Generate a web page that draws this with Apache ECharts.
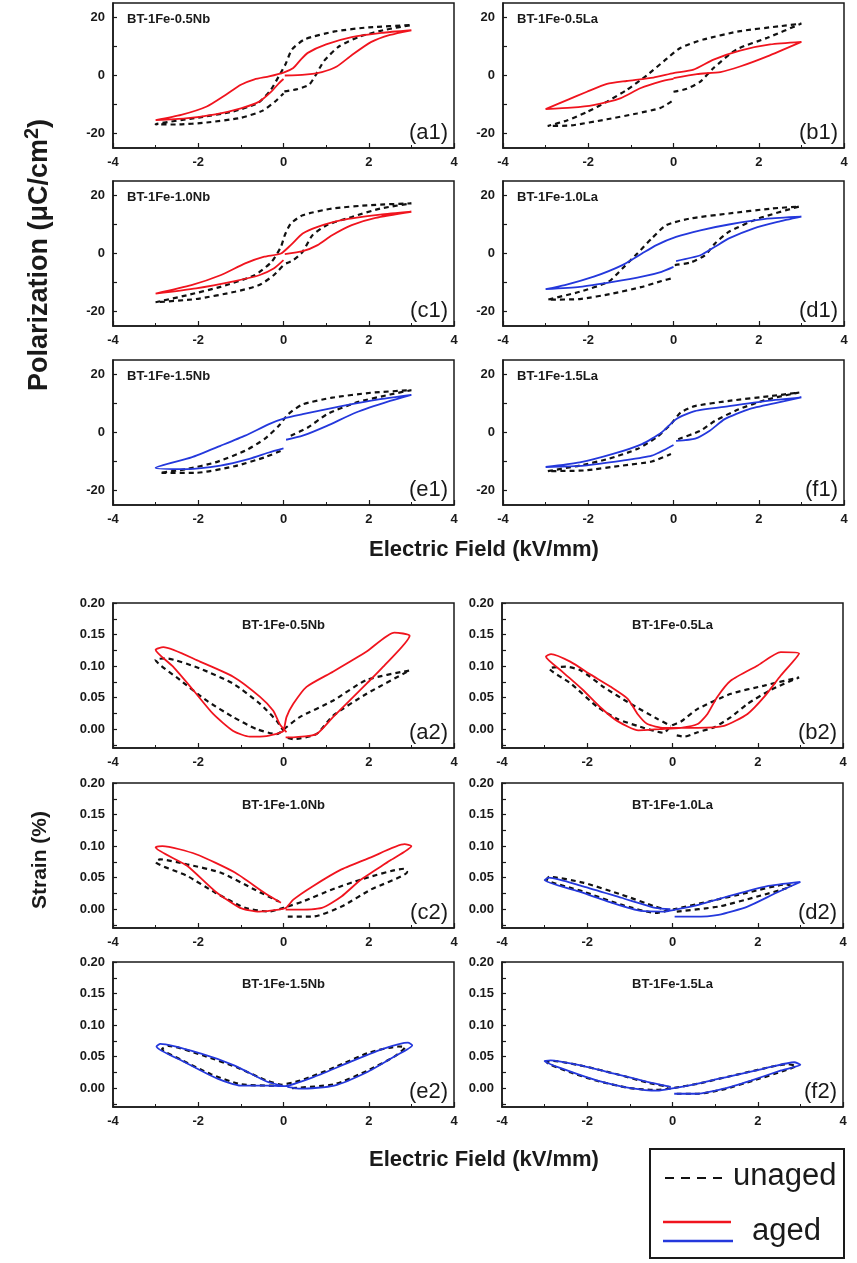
<!DOCTYPE html>
<html>
<head>
<meta charset="utf-8">
<title>P-E and S-E loops</title>
<script src="https://cdn.jsdelivr.net/npm/echarts@6.0.0/dist/echarts.min.js"></script>
<style>
  html, body { margin: 0; padding: 0; background: #fff; }
  #chart { width: 857px; height: 1263px; }
</style>
</head>
<body>
<div id="chart"></div>
<script>
// ---- data: each loop is traced 0 -> +3 -> -3 -> 0 (kV/mm, uC/cm2 or %)
var a1Unaged = [[0.02,-5.5],[0.3,-4.8],[0.6,-3.2],[0.75,0],[0.95,5],[1.3,10],[1.8,13.5],[2.4,15.8],[3.0,17.4],
  [2.0,16.6],[1.2,15.2],[0.5,12.5],[0.2,9.0],[0.05,4.0],[-0.1,0],[-0.3,-5],[-0.6,-9.5],[-1.2,-12.5],[-2.0,-14.5],[-3.0,-16.8],
  [-2.5,-16.9],[-1.8,-16.2],[-1.0,-14.6],[-0.5,-12.2],[-0.2,-9.0],[0,-6.2]];
var a1Aged = [[0.03,0],[0.5,0.3],[0.9,1.2],[1.25,3.1],[1.6,7.0],[2.05,11.5],[2.5,14.0],[3.0,15.6],
  [2.3,14.7],[1.6,13.2],[1.0,10.7],[0.57,7.8],[0.4,5.4],[0.23,2.6],[0,1.0],[-0.34,-0.3],[-0.68,-1.3],[-1.0,-3.2],[-1.36,-6.7],[-1.8,-10.7],[-2.4,-13.6],[-3.0,-15.4],
  [-2.3,-14.8],[-1.6,-13.4],[-1.0,-11.3],[-0.57,-9.0],[-0.28,-5.5],[-0.11,-2.7],[0,-1.2]];

var b1Unaged = [[0,-5.6],[0.31,-4.6],[0.63,-2.1],[0.94,2.6],[1.48,9.0],[2.2,13.0],[3.0,17.9],
  [2.5,17.0],[1.56,15.3],[0.7,12.4],[0.16,9.5],[-0.23,4.9],[-0.63,0],[-1.1,-5],[-1.56,-9],[-2.03,-12.6],[-2.5,-15.5],[-2.95,-17.4],
  [-2.4,-17.2],[-1.56,-15.1],[-0.86,-13.1],[-0.31,-11.2],[0,-8.5]];
var b1Aged = [[0,-0.9],[0.55,0.5],[1.1,1.2],[1.56,3.1],[2.2,6.6],[3.0,11.6],
  [2.27,10.7],[1.56,8.6],[0.94,5.5],[0.47,2.0],[0,0.8],[-0.47,-0.7],[-1.1,-1.9],[-1.56,-2.9],[-2.03,-5.6],[-2.5,-8.5],[-3.0,-11.6],
  [-2.4,-11.1],[-1.88,-10.2],[-1.25,-7.9],[-0.78,-4.4],[-0.31,-2.1],[0,-1.2]];

var c1Unaged = [[0.06,-3.4],[0.23,-2.3],[0.45,0.6],[0.68,6.3],[1.02,9.8],[1.6,12.6],[2.27,15.5],[3.0,17.3],
  [2.05,16.7],[1.14,15.5],[0.45,13.2],[0.17,10.3],[0.03,6.3],[-0.06,2.3],[-0.28,-2.9],[-0.68,-7.5],[-1.48,-11.5],[-2.27,-14.4],[-3.0,-16.8],
  [-2.05,-15.7],[-1.14,-13.2],[-0.57,-10.9],[-0.23,-7.5],[0,-4.0]];
var c1Aged = [[0.03,-0.2],[0.45,0.8],[0.8,2.9],[1.14,6.3],[1.6,9.8],[2.16,12.3],[3.0,14.4],
  [2.27,13.4],[1.36,11.5],[0.8,9.2],[0.45,6.9],[0.17,2.9],[-0.06,0],[-0.45,-1.1],[-0.9,-3.4],[-1.48,-7.5],[-2.16,-10.9],[-3.0,-13.8],
  [-2.05,-12.0],[-1.14,-9.5],[-0.57,-7.5],[-0.23,-5.2],[0,-2.3]];

var d1Unaged = [[0.03,-4.0],[0.4,-3.1],[0.74,-0.6],[0.97,3.4],[1.3,7.5],[2.0,12.1],[2.95,16.2],
  [2.3,15.5],[1.3,13.8],[0.4,12.1],[-0.17,9.8],[-0.51,5.2],[-0.85,0],[-1.2,-5.2],[-1.53,-9.8],[-2.2,-13.2],[-2.95,-15.9],
  [-2.2,-15.7],[-1.42,-13.8],[-0.74,-11.5],[-0.28,-9.5],[0,-8.4]];
var d1Aged = [[0.06,-2.6],[0.63,-0.6],[0.97,2.3],[1.3,5.2],[1.87,8.6],[2.44,10.9],[3.0,12.7],
  [2.2,12.0],[1.3,10.0],[0.63,8.0],[0.06,5.7],[-0.4,2.9],[-0.74,0],[-1.2,-4.0],[-1.87,-8.0],[-2.55,-10.9],[-3.0,-12.3],
  [-2.2,-11.5],[-1.42,-9.8],[-0.74,-8.0],[-0.28,-6.3],[0,-4.6]];

var e1Unaged = [[0.17,-1.1],[0.57,1.7],[1.02,6.3],[1.7,10.3],[2.5,13.1],[3.0,14.6],
  [2.05,13.7],[1.14,12.0],[0.45,9.7],[0.11,6.3],[-0.11,2.3],[-0.45,-2.3],[-0.9,-6.3],[-1.6,-10.3],[-2.27,-12.6],[-2.9,-13.9],
  [-2.05,-13.9],[-1.14,-11.6],[-0.45,-8.6],[-0.06,-6.3]];
var e1Aged = [[0.06,-2.5],[0.45,-1.1],[1.02,2.3],[1.7,6.9],[2.5,10.9],[3.0,13.0],
  [2.27,11.5],[1.36,9.1],[0.45,6.3],[0,4.8],[-0.34,2.9],[-0.9,-1.1],[-1.48,-4.6],[-2.16,-8.6],[-3.0,-12.2],
  [-2.27,-12.6],[-1.48,-11.4],[-0.8,-9.1],[-0.34,-6.9],[0,-5.5]];

var f1Unaged = [[0.11,-2.3],[0.63,0.6],[0.97,4.0],[1.53,8.0],[2.2,11.4],[2.95,13.8],
  [2.3,12.6],[1.3,10.9],[0.5,9.1],[0.17,6.9],[-0.06,2.9],[-0.4,-1.7],[-0.85,-5.7],[-1.53,-9.1],[-2.2,-11.4],[-2.95,-13.3],
  [-2.1,-13.1],[-1.2,-11.4],[-0.51,-10.0],[-0.06,-7.4]];
var f1Aged = [[0.06,-2.9],[0.51,-2.1],[0.85,0.6],[1.2,4.6],[1.76,8.0],[2.44,10.3],[3.0,12.1],
  [2.2,10.9],[1.3,9.1],[0.5,7.4],[0.06,4.6],[-0.28,0],[-0.74,-4.0],[-1.42,-7.4],[-2.2,-10.3],[-3.0,-11.9],
  [-2.1,-11.4],[-1.2,-9.7],[-0.51,-8.0],[0,-4.3]];

var a2Unaged = [[0.1,-0.014],[0.23,-0.016],[0.77,-0.008],[1.16,0.021],[1.95,0.056],[2.96,0.093],
  [1.95,0.078],[1.16,0.045],[0.38,0.019],[0.07,0.003],[-0.16,-0.008],[-0.63,0],[-1.18,0.019],[-1.8,0.045],[-2.43,0.078],[-3.0,0.110],
  [-2.75,0.112],[-1.96,0.096],[-1.18,0.072],[-0.55,0.040],[-0.16,0.013],[0,-0.003]];
var a2Aged = [[0.05,-0.013],[0.23,-0.013],[0.77,-0.008],[1.16,0.019],[1.55,0.045],[1.95,0.072],[2.34,0.099],[2.96,0.148],
  [2.6,0.153],[1.95,0.123],[1.16,0.091],[0.54,0.067],[0.23,0.040],[0.07,0.019],[0,-0.003],[-0.09,-0.006],[-0.4,-0.011],[-0.79,-0.012],[-1.18,-0.003],[-1.65,0.024],[-2.12,0.062],[-2.59,0.099],[-3.0,0.126],
  [-2.82,0.130],[-1.96,0.107],[-1.18,0.083],[-0.55,0.051],[-0.24,0.029],[-0.09,0.008],[0.07,-0.005]];

var b2Unaged = [[0.1,-0.010],[0.27,-0.012],[0.59,-0.005],[0.98,0.003],[1.37,0.019],[1.76,0.040],[2.3,0.062],[2.97,0.082],
  [2.15,0.069],[1.37,0.056],[0.59,0.032],[0.2,0.012],[-0.04,0.005],[-0.2,-0.006],[-0.82,0.005],[-1.29,0.016],[-1.76,0.035],[-2.38,0.072],[-2.89,0.096],
  [-2.5,0.099],[-2.15,0.093],[-1.6,0.066],[-0.98,0.040],[-0.35,0.016],[-0.04,0.005]];
var b2Aged = [[0,0.002],[0.59,0.002],[1.21,0.005],[1.76,0.024],[2.15,0.051],[2.54,0.085],[2.97,0.120],
  [2.54,0.122],[2.0,0.101],[1.37,0.077],[1.05,0.051],[0.82,0.024],[0.59,0.008],[0.2,0.002],[-0.3,0.0],[-0.8,-0.002],[-1.3,0.013],[-1.7,0.035],[-2.1,0.062],[-2.6,0.092],[-2.97,0.115],
  [-2.85,0.119],[-2.4,0.107],[-1.91,0.086],[-1.45,0.067],[-1.05,0.048],[-0.82,0.024],[-0.59,0.008],[-0.2,0.002],[0.1,0.002]];

var c2Unaged = [[0.1,-0.012],[0.68,-0.012],[1.36,0.004],[2.05,0.031],[2.9,0.059],
  [2.84,0.064],[1.82,0.047],[1.14,0.031],[0.45,0.012],[0,0.002],[-0.34,-0.004],[-0.9,0.002],[-1.6,0.026],[-2.27,0.053],[-3.0,0.075],
  [-2.9,0.079],[-2.27,0.071],[-1.48,0.058],[-0.68,0.031],[-0.11,0.012]];
var c2Aged = [[0.05,-0.001],[0.23,-0.001],[0.9,0.002],[1.36,0.020],[1.82,0.047],[2.5,0.077],[3.0,0.100],
  [2.84,0.103],[2.05,0.082],[1.36,0.063],[0.68,0.036],[0.23,0.015],[0.06,0.002],[-0.11,-0.001],[-0.57,-0.004],[-1.02,0.002],[-1.6,0.028],[-2.27,0.069],[-3.0,0.098],
  [-2.84,0.100],[-2.05,0.087],[-1.14,0.058],[-0.45,0.026],[-0.06,0.010]];

var d2Unaged = [[0.1,-0.004],[1.08,0.004],[1.99,0.020],[2.78,0.037],
  [2.67,0.039],[1.76,0.026],[0.85,0.012],[0.05,0],[-0.4,-0.006],[-1.2,0.007],[-2.1,0.028],[-2.95,0.047],
  [-2.9,0.051],[-2.1,0.042],[-1.2,0.023],[-0.4,0.004],[-0.1,-0.002]];
var d2Aged = [[0.05,-0.012],[0.5,-0.012],[1.08,-0.009],[1.76,0.004],[2.44,0.026],[3.0,0.043],
  [2.2,0.036],[1.3,0.020],[0.63,0.007],[0.06,-0.001],[-0.23,-0.004],[-0.74,-0.003],[-1.42,0.010],[-2.2,0.028],[-3.0,0.046],
  [-2.9,0.050],[-2.1,0.036],[-1.2,0.018],[-0.4,0.002],[-0.05,0.0]];

var e2Unaged = [[0.2,0.0],[1.19,0.006],[1.98,0.028],[2.6,0.050],[2.85,0.065],
  [2.7,0.066],[2.0,0.056],[1.2,0.033],[0.4,0.012],[-0.2,0.004],[-1.0,0.006],[-1.7,0.022],[-2.4,0.045],[-2.85,0.062],
  [-2.7,0.067],[-1.9,0.052],[-1.1,0.033],[-0.4,0.012],[-0.05,0.005]];
var e2Aged = [[0.09,0.002],[0.4,-0.001],[1.19,0.004],[1.98,0.026],[2.6,0.050],[3.02,0.068],
  [2.92,0.072],[2.37,0.063],[1.58,0.042],[0.8,0.020],[0,0.003],[-0.38,0.004],[-1.0,0.004],[-1.55,0.015],[-2.34,0.042],[-2.98,0.066],
  [-2.89,0.070],[-1.95,0.055],[-1.16,0.036],[-0.38,0.010],[0,0.003]];

var f2Unaged = [[0.1,-0.009],[0.6,-0.009],[1.2,-0.002],[1.9,0.012],[2.6,0.027],[2.9,0.035],
  [2.7,0.038],[2.0,0.029],[1.3,0.018],[0.6,0.007],[0,0.0],[-0.4,-0.003],[-1.0,0.0],[-1.8,0.012],[-2.4,0.025],[-2.95,0.041],
  [-2.8,0.043],[-2.1,0.035],[-1.3,0.022],[-0.6,0.009],[-0.1,0.002]];
var f2Aged = [[0.04,-0.009],[0.59,-0.009],[1.2,-0.001],[1.84,0.012],[2.55,0.028],[3.0,0.037],
  [2.86,0.041],[2.15,0.031],[1.37,0.019],[0.59,0.007],[-0.04,-0.001],[-0.35,-0.004],[-0.98,0.0],[-1.76,0.012],[-2.39,0.026],[-3.0,0.043],
  [-2.86,0.044],[-2.16,0.036],[-1.37,0.023],[-0.59,0.010],[-0.04,0.002]];

var sampleNames = ['BT-1Fe-0.5Nb','BT-1Fe-0.5La','BT-1Fe-1.0Nb','BT-1Fe-1.0La','BT-1Fe-1.5Nb','BT-1Fe-1.5La'];
var peTags = ['(a1)','(b1)','(c1)','(d1)','(e1)','(f1)'];
var seTags = ['(a2)','(b2)','(c2)','(d2)','(e2)','(f2)'];
var peUnaged = [a1Unaged,b1Unaged,c1Unaged,d1Unaged,e1Unaged,f1Unaged];
var peAged = [a1Aged,b1Aged,c1Aged,d1Aged,e1Aged,f1Aged];
var seUnaged = [a2Unaged,b2Unaged,c2Unaged,d2Unaged,e2Unaged,f2Unaged];
var seAged = [a2Aged,b2Aged,c2Aged,d2Aged,e2Aged,f2Aged];
var xTicks = [-4,-2,0,2,4];
var peYLabels = [-20,0,20];
var peYTicks = [-20,-10,0,10,20];
var seYLabels = [0,0.05,0.10,0.15,0.20];
var seYTicks = [-0.025,0,0.025,0.05,0.075,0.10,0.125,0.15,0.175,0.20];
var legendNames = ['unaged','aged'];

// ---- layout
var RED = '#f0141e', BLUE = '#2438dc', INK = '#1a1a1a';
var FONT = 'Liberation Sans, Arial, sans-serif';
var peLeft = [113, 503], seLeft = [113, 502];
var boxW = 341, boxH = 145;
var peTop = [3, 181, 360];
var seTop = [603, 783, 962];

var chart = echarts.init(document.getElementById('chart'));

var grids = [], xAxes = [], yAxes = [], series = [], graphics = [];

function addPanel(left, top, isStrain, unaged, aged, agedColor, name, tag) {
  var gi = grids.length;
  grids.push({left: left, top: top, width: boxW, height: boxH, show: true,
    borderColor: INK, borderWidth: 1.5, backgroundColor: 'transparent'});
  xAxes.push({
    gridIndex: gi, type: 'value', min: xTicks[0], max: xTicks[xTicks.length - 1], interval: 2,
    axisLine: {show: true, onZero: false, lineStyle: {color: INK, width: 1.5}},
    axisTick: {show: true, inside: true, length: 5, lineStyle: {color: INK, width: 1.2}},
    minorTick: {show: true, splitNumber: 2, length: 3, lineStyle: {color: INK, width: 1}},
    axisLabel: {fontFamily: FONT, fontWeight: 'bold', fontSize: 13, color: INK, margin: 8},
    splitLine: {show: false}
  });
  yAxes.push({
    gridIndex: gi, type: 'value',
    min: isStrain ? -0.03 : -25, max: isStrain ? 0.2 : 25,
    axisLine: {show: true, onZero: false, lineStyle: {color: INK, width: 1.5}},
    axisTick: {show: true, inside: true, length: 4, customValues: isStrain ? seYTicks : peYTicks,
      lineStyle: {color: INK, width: 1.2}},
    axisLabel: {fontFamily: FONT, fontWeight: 'bold', fontSize: 13, color: INK, margin: 8,
      customValues: isStrain ? seYLabels : peYLabels,
      formatter: function (v) { return isStrain ? v.toFixed(2) : String(v); }},
    splitLine: {show: false}
  });
  series.push({
    type: 'line', xAxisIndex: gi, yAxisIndex: gi, data: unaged, showSymbol: false,
    smooth: 0.2, animation: false, z: 2,
    lineStyle: {color: '#111', width: 2.2, type: [5, 4]}
  });
  series.push({
    type: 'line', xAxisIndex: gi, yAxisIndex: gi, data: aged, showSymbol: false,
    smooth: 0.2, animation: false, z: 3,
    lineStyle: {color: agedColor, width: 1.8}
  });
  graphics.push({
    type: 'text', z: 10,
    x: isStrain ? left + boxW / 2 : left + 14,
    y: isStrain ? top + 22 : top + 16,
    style: {text: name, font: 'bold 13px ' + FONT, fill: INK,
      align: isStrain ? 'center' : 'left', verticalAlign: 'middle'}
  });
  graphics.push({
    type: 'text', z: 10, x: left + boxW - 6, y: top + boxH - 4,
    style: {text: tag, font: '22px ' + FONT, fill: INK, align: 'right', verticalAlign: 'bottom'}
  });
}

for (var i = 0; i < 6; i++) {
  var col = i % 2, row = Math.floor(i / 2);
  addPanel(peLeft[col], peTop[row], false, peUnaged[i], peAged[i], i < 3 ? RED : BLUE, sampleNames[i], peTags[i]);
}
for (var j = 0; j < 6; j++) {
  var c = j % 2, r = Math.floor(j / 2);
  addPanel(seLeft[c], seTop[r], true, seUnaged[j], seAged[j], j < 3 ? RED : BLUE, sampleNames[j], seTags[j]);
}

// axis titles
graphics.push({type: 'text', x: 40, y: 255, rotation: Math.PI / 2,
  style: {text: '{a|Polarization (μC/cm}{s|2}{a|)}', fill: INK, align: 'center', verticalAlign: 'middle',
    rich: {
      a: {fontFamily: FONT, fontWeight: 'bold', fontSize: 27, fill: INK},
      s: {fontFamily: FONT, fontWeight: 'bold', fontSize: 20, fill: INK, padding: [0, 0, 16, 0]}
    }}});
graphics.push({type: 'text', x: 40, y: 860, rotation: Math.PI / 2,
  style: {text: 'Strain (%)', font: 'bold 21px ' + FONT, fill: INK, align: 'center', verticalAlign: 'middle'}});
graphics.push({type: 'text', x: 484, y: 550,
  style: {text: 'Electric Field (kV/mm)', font: 'bold 22px ' + FONT, fill: INK, align: 'center', verticalAlign: 'middle'}});
graphics.push({type: 'text', x: 484, y: 1160,
  style: {text: 'Electric Field (kV/mm)', font: 'bold 22px ' + FONT, fill: INK, align: 'center', verticalAlign: 'middle'}});

// legend box
graphics.push({type: 'rect', shape: {x: 650, y: 1149, width: 194, height: 109},
  style: {fill: '#fff', stroke: INK, lineWidth: 2}});
graphics.push({type: 'line', shape: {x1: 665, y1: 1178, x2: 728, y2: 1178},
  style: {stroke: '#111', lineWidth: 2, lineDash: [9, 7]}});
graphics.push({type: 'text', x: 733, y: 1176,
  style: {text: legendNames[0], font: '31px ' + FONT, fill: INK, align: 'left', verticalAlign: 'middle'}});
graphics.push({type: 'line', shape: {x1: 663, y1: 1222, x2: 731, y2: 1222},
  style: {stroke: RED, lineWidth: 2.5}});
graphics.push({type: 'line', shape: {x1: 663, y1: 1241, x2: 733, y2: 1241},
  style: {stroke: BLUE, lineWidth: 2.5}});
graphics.push({type: 'text', x: 752, y: 1231,
  style: {text: legendNames[1], font: '31px ' + FONT, fill: INK, align: 'left', verticalAlign: 'middle'}});

chart.setOption({
  animation: false,
  backgroundColor: '#fff',
  grid: grids,
  xAxis: xAxes,
  yAxis: yAxes,
  series: series,
  graphic: graphics
});
</script>
</body>
</html>
